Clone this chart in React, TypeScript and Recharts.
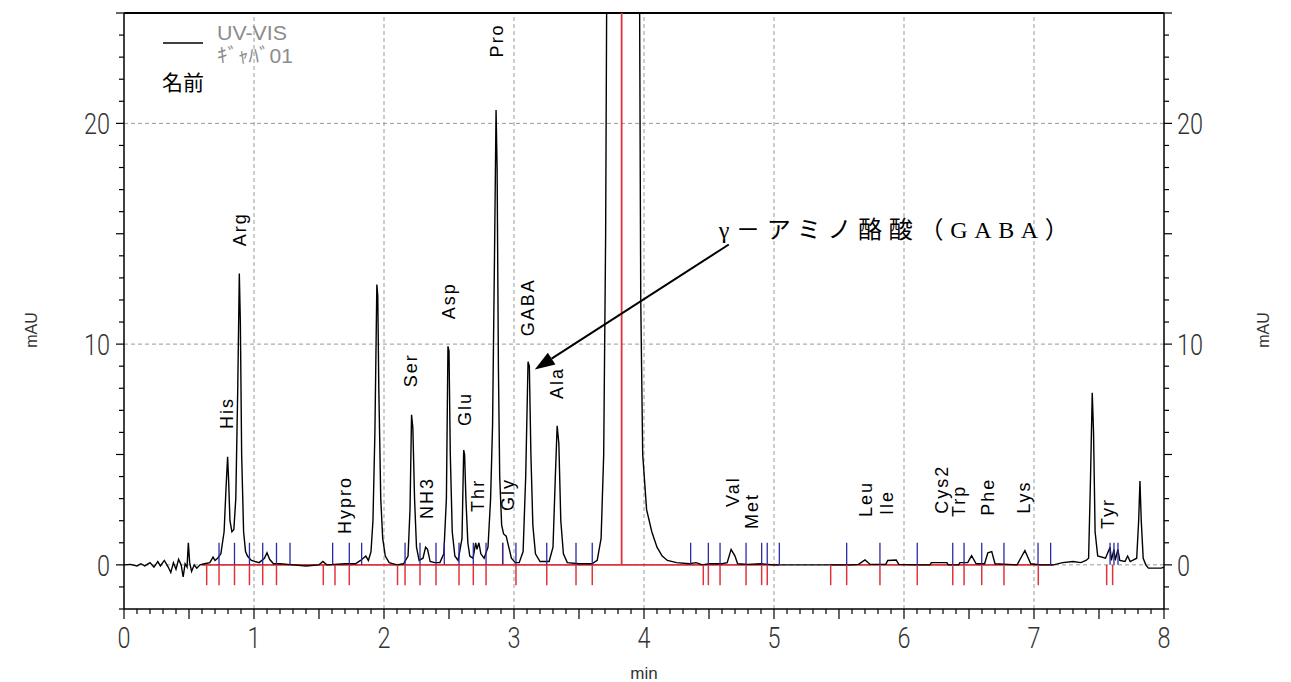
import { ComposedChart, Line, ReferenceLine, Scatter, XAxis, YAxis } from "recharts";

// chromatogram trace, [min, mAU]
const traceStart: [number, number][] = [
  [0, 0], [0.05, 0.02], [0.1, -0.05], [0.13, 0.05], [0.16, -0.05], [0.2, 0.1],
  [0.23, -0.1], [0.26, 0.15], [0.28, -0.05], [0.31, 0.2], [0.34, -0.1], [0.36, -0.35],
  [0.38, 0.1], [0.4, -0.2], [0.42, 0.25], [0.44, 0.0], [0.455, -0.55], [0.47, 0.05],
  [0.485, -0.1], [0.495, 1.0], [0.505, 0.1], [0.52, -0.3], [0.54, 0.0], [0.56, -0.15],
  [0.585, 0], [0.62, 0.05], [0.66, 0.1], [0.685, 0.35], [0.7, 0.2], [0.72, 0.3],
  [0.745, 0.5], [0.77, 1.5], [0.785, 3.5], [0.797, 4.9], [0.805, 3.8], [0.815, 2.0],
  [0.83, 1.5], [0.845, 1.6], [0.86, 3.0], [0.875, 8], [0.887, 13.2], [0.895, 11],
  [0.905, 5], [0.92, 1.5], [0.935, 0.6], [0.95, 0.4], [0.98, 0.2], [1.04, 0.1],
  [1.08, 0.3], [1.1, 0.55], [1.12, 0.25], [1.15, 0.05], [1.2, 0.05], [1.3, 0.0],
  [1.4, -0.05], [1.5, 0.0], [1.53, 0.15], [1.56, 0.0], [1.7, 0.05], [1.78, 0.05],
  [1.82, 0.2], [1.86, 0.4], [1.88, 0.2], [1.9, 0.6], [1.915, 2], [1.93, 6],
  [1.945, 12.7], [1.952, 12.2], [1.96, 8], [1.975, 3], [1.99, 1.2], [2.01, 0.4],
  [2.04, 0.1], [2.1, 0.0],
];

const traceMiddle: [number, number][] = [
  [2.15, 0.05], [2.185, 0.4], [2.2, 2.5], [2.212, 6.8], [2.222, 6.2], [2.235, 3],
  [2.25, 0.8], [2.27, 0.2], [2.3, 0.3], [2.32, 0.8], [2.335, 0.7], [2.355, 0.15],
  [2.39, 0.1], [2.43, 0.1], [2.46, 0.5], [2.48, 3], [2.492, 9.9], [2.5, 9.7],
  [2.51, 5], [2.525, 1.5], [2.545, 0.4], [2.57, 0.2], [2.6, 1.2], [2.613, 5.2],
  [2.62, 5.0], [2.63, 3], [2.645, 1.0], [2.66, 0.4], [2.685, 0.3], [2.705, 1.0],
  [2.715, 0.7], [2.73, 1.0], [2.745, 0.5], [2.77, 0.3], [2.8, 0.8], [2.82, 3],
  [2.835, 6.3], [2.85, 14], [2.862, 20.6], [2.87, 18], [2.88, 9], [2.89, 4],
  [2.905, 1.8], [2.92, 1.4], [2.94, 1.3], [2.96, 0.8], [2.98, 0.3], [3.01, 0.1],
  [3.04, 0.1], [3.07, 0.6], [3.09, 4], [3.108, 9.2], [3.118, 9.0], [3.13, 5],
  [3.145, 1.8], [3.165, 0.5], [3.2, 0.15], [3.27, 0.15], [3.3, 0.8], [3.318, 4],
  [3.332, 6.3], [3.345, 5.5], [3.36, 2], [3.38, 0.5], [3.41, 0.1], [3.5, 0.05],
  [3.6, 0.05], [3.64, 0.2], [3.67, 1.2], [3.69, 5], [3.705, 15], [3.72, 35],
  [3.85, 60], [3.96, 35], [3.975, 12], [3.99, 5], [4.02, 2.5], [4.06, 1.5],
  [4.1, 0.8], [4.14, 0.4], [4.18, 0.2], [4.25, 0.1], [4.35, 0.05], [4.4, 0.1],
];

const traceEnd: [number, number][] = [
  [4.45, 0.0], [4.5, 0.05], [4.6, 0.05], [4.64, 0.1], [4.67, 0.7], [4.7, 0.4],
  [4.72, 0.05], [4.8, 0.02], [4.9, 0.05], [5.0, 0.0], [5.6, 0.0], [5.65, 0.02],
  [5.7, 0.22], [5.74, 0.02], [5.86, 0.02], [5.875, 0.2], [5.94, 0.22], [5.96, 0.02],
  [6.1, 0.0], [6.2, 0.0], [6.21, 0.1], [6.33, 0.1], [6.34, 0.0], [6.42, 0.0],
  [6.43, 0.1], [6.49, 0.1], [6.52, 0.42], [6.555, 0.05], [6.62, 0.05], [6.645, 0.55],
  [6.675, 0.6], [6.7, 0.05], [6.87, 0.0], [6.93, 0.65], [6.975, 0.05], [7.05, 0.0],
  [7.15, 0.0], [7.22, 0.1], [7.3, 0.15], [7.36, 0.1], [7.4, 0.2], [7.42, 0.3],
  [7.435, 4], [7.448, 7.8], [7.458, 6], [7.47, 1.5], [7.49, 0.4], [7.55, 0.3],
  [7.585, 0.8], [7.595, 0.2], [7.615, 0.7], [7.625, 0.2], [7.645, 0.7], [7.66, 0.2],
  [7.7, 0.15], [7.72, 0.4], [7.74, 0.15], [7.79, 0.3], [7.805, 2], [7.815, 3.8],
  [7.825, 2], [7.84, 0.3], [7.86, 0.0], [7.88, -0.15], [7.98, -0.15], [8.0, -0.1],
];

// peak names, their retention time and the level where the label starts
const peakNames = [
  "His", "Arg", "Hypro", "Ser", "NH3", "Asp", "Glu", "Thr", "Pro", "Gly", "GABA", "Ala",
  "Val", "Met", "Leu", "Ile", "Cys2", "Trp", "Phe", "Lys", "Tyr",
];
const peakLabelTimes = [
  0.79, 0.892, 1.7, 2.208, 2.328, 2.5, 2.623, 2.723, 2.87, 2.952, 3.11, 3.328,
  4.685, 4.83, 5.71, 5.87, 6.29, 6.42, 6.65, 6.92, 7.57,
];
const peakLabelLevels = [
  6.15, 14.43, 1.4, 8.05, 2.08, 11.13, 6.29, 2.4, 22.99, 2.44, 10.36, 7.51,
  2.62, 1.63, 2.17, 2.26, 2.31, 2.17, 2.22, 2.31, 1.63,
];

// integration marks
const redMarkTimes = [
  0.636, 0.731, 0.85, 0.965, 1.067, 1.173, 1.533, 1.623, 1.733, 2.104, 2.162, 2.277,
  2.4, 2.577, 2.687, 2.785, 3.015, 3.252, 3.477, 3.602, 4.456, 4.495, 4.585, 4.785,
  4.905, 4.948, 5.436, 5.559, 5.815, 6.102, 6.375, 6.462, 6.598, 6.769, 7.033, 7.559,
  7.605,
];
const blueMarkTimes = [
  0.731, 0.85, 0.965, 1.067, 1.173, 1.277, 1.605, 1.733, 1.828, 2.162, 2.277, 2.4,
  2.464, 2.577, 2.687, 2.785, 2.913, 3.015, 3.252, 3.477, 3.602, 4.359, 4.495, 4.585,
  4.785, 4.905, 4.948, 5.041, 5.559, 5.815, 6.102, 6.375, 6.462, 6.598, 6.769, 7.031,
  7.128, 7.585, 7.615, 7.646,
];
const redUpMarkTimes = [2.913];
const baselineSegments: [number, number][] = [[0.6, 5.04], [5.43, 7.15]];
const solventMarkTime = 3.828;

const xLabels = [0, 1, 2, 3, 4, 5, 6, 7, 8];
const yLabels = [0, 10, 20];
const xGrid = [1, 2, 3, 4, 5, 6, 7];

const trace = [...traceStart, ...traceMiddle, ...traceEnd].map(([t, v]) => ({ t, v }));
const peakLabels = peakNames.map((name, i) => ({ name, t: peakLabelTimes[i], v: peakLabelLevels[i] }));
const arrowTip = [{ t: 3.16, v: 8.85 }];

const xTicks = Array.from({ length: 81 }, (_, i) => i / 10);
const yTicks = Array.from({ length: 28 }, (_, i) => i - 2);

const RED = "#e0343c";
const BLUE = "#2a2aa8";
const GRID = "#9a9a9a";
const numFont = "Roboto, 'Liberation Sans', sans-serif";

function XTick(props: any) {
  const { x, y, payload } = props;
  const v = payload.value;
  const half = Math.round(v * 10) % 5 === 0;
  const whole = Math.abs(v - Math.round(v)) < 1e-6;
  return (
    <g>
      <line x1={x} x2={x} y1={y} y2={y + (half ? 10 : 5)} stroke="#000" strokeWidth={1.2} />
      {whole && xLabels.includes(Math.round(v)) && (
        <text x={x} y={y + 39} textAnchor="middle" fontSize={30} fontWeight={300}
          fontFamily={numFont} fill="#333" textLength={13} lengthAdjust="spacingAndGlyphs">
          {Math.round(v)}
        </text>
      )}
    </g>
  );
}

function LeftTick(props: any) {
  const { x, y, payload } = props;
  const v = payload.value;
  const len = v % 5 === 0 ? 8 : 5;
  const label = String(v);
  return (
    <g>
      <line x1={x - len} x2={x} y1={y} y2={y} stroke="#000" strokeWidth={1.2} />
      {yLabels.includes(v) && (
        <text x={x - 14} y={y + 11} textAnchor="end" fontSize={30} fontWeight={300}
          fontFamily={numFont} fill="#333" textLength={13 * label.length} lengthAdjust="spacingAndGlyphs">
          {label}
        </text>
      )}
    </g>
  );
}

function RightTick(props: any) {
  const { x, y, payload } = props;
  const v = payload.value;
  const len = v % 5 === 0 ? 8 : 5;
  const label = String(v);
  return (
    <g>
      <line x1={x} x2={x + len} y1={y} y2={y} stroke="#000" strokeWidth={1.2} />
      {yLabels.includes(v) && (
        <text x={x + 13} y={y + 11} textAnchor="start" fontSize={30} fontWeight={300}
          fontFamily={numFont} fill="#333" textLength={13 * label.length} lengthAdjust="spacingAndGlyphs">
          {label}
        </text>
      )}
    </g>
  );
}

function PeakLabel(props: any) {
  const { cx, cy, payload } = props;
  return (
    <text x={cx} y={cy} transform={`rotate(-90, ${cx}, ${cy})`} dominantBaseline="central"
      fontSize={18} letterSpacing={2} fontFamily="'Liberation Sans', Arial, sans-serif" fill="#000">
      {payload.name}
    </text>
  );
}

function GabaArrow(props: any) {
  const { cx, cy } = props;
  const tx = cx + 194;
  const ty = cy - 125;
  const ang = Math.atan2(cy - ty, cx - tx);
  const hl = 20;
  const hw = 7;
  const bx = cx - hl * Math.cos(ang);
  const by = cy - hl * Math.sin(ang);
  const px = -Math.sin(ang) * hw;
  const py = Math.cos(ang) * hw;
  return (
    <g>
      <line x1={tx} y1={ty} x2={bx} y2={by} stroke="#000" strokeWidth={2} />
      <polygon points={`${cx},${cy} ${bx + px},${by + py} ${bx - px},${by - py}`} fill="#000" />
      <text x={cx + 184} y={cy - 131} fontSize={24} textLength={350} lengthAdjust="spacing"
        fontFamily="'Liberation Serif', 'Noto Sans CJK JP', serif" fill="#000">
        γ－アミノ酪酸（GABA）
      </text>
    </g>
  );
}

export default function App() {
  return (
    <div style={{ position: "absolute", left: 0, top: 0, width: 1291, height: 682, background: "#fff" }}>
      <ComposedChart width={1291} height={682} margin={{ top: 13, right: 57, bottom: 33, left: 54 }}>
        <XAxis type="number" dataKey="t" domain={[0, 8]} ticks={xTicks} interval={0}
          tick={<XTick />} tickLine={false} tickSize={0} tickMargin={0} height={40}
          axisLine={{ stroke: "#000", strokeWidth: 1.5 }} allowDataOverflow />
        <YAxis type="number" domain={[-2, 25]} ticks={yTicks} interval={0} width={70}
          tick={<LeftTick />} tickLine={false} tickSize={0} tickMargin={0}
          axisLine={{ stroke: "#000", strokeWidth: 1.5 }} allowDataOverflow />
        <YAxis yAxisId="right" orientation="right" type="number" domain={[-2, 25]} ticks={yTicks}
          interval={0} width={70} tick={<RightTick />} tickLine={false} tickSize={0} tickMargin={0}
          axisLine={{ stroke: "#000", strokeWidth: 1.5 }} allowDataOverflow />

        {xGrid.map((t) => (
          <ReferenceLine key={`gx${t}`} x={t} stroke={GRID} strokeDasharray="4 3" />
        ))}
        {yLabels.map((v) => (
          <ReferenceLine key={`gy${v}`} y={v} stroke={GRID} strokeDasharray="4 3" />
        ))}
        <ReferenceLine y={25} stroke="#000" strokeWidth={2} />

        {baselineSegments.map(([a, b]) => (
          <ReferenceLine key={`bl${a}`} segment={[{ x: a, y: 0 }, { x: b, y: 0 }]} stroke={RED} strokeWidth={1.6} />
        ))}

        <Line data={trace} dataKey="v" type="linear" stroke="#000" strokeWidth={1.4}
          dot={false} isAnimationActive={false} />

        {redMarkTimes.map((t, i) => (
          <ReferenceLine key={`r${i}`} segment={[{ x: t, y: 0 }, { x: t, y: -0.92 }]} stroke={RED} strokeWidth={1.5} />
        ))}
        {redUpMarkTimes.map((t, i) => (
          <ReferenceLine key={`ru${i}`} segment={[{ x: t, y: 0 }, { x: t, y: 1.0 }]} stroke={RED} strokeWidth={1.5} />
        ))}
        {blueMarkTimes.map((t, i) => (
          <ReferenceLine key={`b${i}`} segment={[{ x: t, y: 0 }, { x: t, y: 1.0 }]} stroke={BLUE} strokeWidth={1.3} />
        ))}
        <ReferenceLine segment={[{ x: solventMarkTime, y: 0 }, { x: solventMarkTime, y: 25 }]} stroke={RED} strokeWidth={1.8} />

        <Scatter data={peakLabels} dataKey="v" shape={<PeakLabel />} isAnimationActive={false} />
        <Scatter data={arrowTip} dataKey="v" shape={<GabaArrow />} isAnimationActive={false} />
      </ComposedChart>

      <svg width={1291} height={682} style={{ position: "absolute", left: 0, top: 0, pointerEvents: "none" }}>
        <line x1={163} x2={203} y1={43} y2={43} stroke="#000" strokeWidth={1.5} />
        <text x={217} y={40} fontSize={20} fill="#8c8c8c" textLength={70} lengthAdjust="spacingAndGlyphs"
          fontFamily="'Liberation Sans', sans-serif">UV-VIS</text>
        <text x={217} y={63} fontSize={20} fill="#8c8c8c" textLength={76} lengthAdjust="spacingAndGlyphs"
          fontFamily="'Liberation Sans', 'Noto Sans CJK JP', sans-serif">ｷﾞｬﾊﾞ01</text>
        <text x={162} y={90} fontSize={21} fill="#000" fontFamily="'Noto Sans CJK JP', sans-serif">名前</text>
        <text x={31} y={330} transform="rotate(-90, 31, 330)" textAnchor="middle" dominantBaseline="central"
          fontSize={16} fill="#333" fontFamily="'Liberation Sans', sans-serif">mAU</text>
        <text x={1263} y={330} transform="rotate(-90, 1263, 330)" textAnchor="middle" dominantBaseline="central"
          fontSize={16} fill="#333" fontFamily="'Liberation Sans', sans-serif">mAU</text>
        <text x={644} y={679} textAnchor="middle" fontSize={17} fill="#333"
          fontFamily="'Liberation Sans', sans-serif">min</text>
      </svg>
    </div>
  );
}
